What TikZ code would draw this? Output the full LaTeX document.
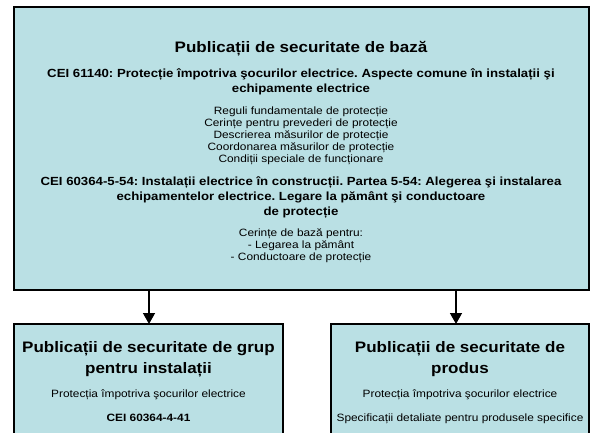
\documentclass[tikz,border=0pt]{standalone}
\usepackage{fontspec}
\setmainfont{Liberation Sans}[FakeStretch=1.12]
\frenchspacing
\usetikzlibrary{arrows.meta}
\definecolor{boxfill}{RGB}{186,224,228}
\tikzset{
  box/.style={draw=black, line width=1.5pt, fill=boxfill},
  txt/.style={inner sep=0pt, anchor=base},
  bigtitle/.style={txt, font=\bfseries\fontsize{15.2}{18}\selectfont},
  subtitle/.style={txt, font=\bfseries\fontsize{11.8}{14}\selectfont},
  plain/.style={txt, font=\fontsize{10.6}{12}\selectfont},
  conn/.style={line width=1.5pt, -{Triangle[length=11pt,width=12pt]}}
}
\begin{document}
\begin{tikzpicture}[x=1pt,y=-1pt]
\useasboundingbox (0,0) rectangle (590,432);
\clip (0,0) rectangle (590,432);
\draw[box] (14,7) rectangle (589,290);
\node[bigtitle] (t1) at (301,52) {Publicații de securitate de bază};
\node[subtitle] (t2a) at (301,77) {CEI 61140: Protecție împotriva şocurilor electrice. Aspecte comune în instalații şi};
\node[subtitle] (t2b) at (301,92) {echipamente electrice};
\node[plain] (t3a) at (301,114) {Reguli fundamentale de protecție};
\node[plain] (t3b) at (301,126) {Cerințe pentru prevederi de protecție};
\node[plain] (t3c) at (301,138) {Descrierea măsurilor de protecție};
\node[plain] (t3d) at (301,150) {Coordonarea măsurilor de protecție};
\node[plain] (t3e) at (301,162) {Condiții speciale de funcționare};
\node[subtitle] (t4a) at (301,185) {CEI 60364-5-54: Instalații electrice în construcții. Partea 5-54: Alegerea şi instalarea};
\node[subtitle] (t4b) at (301,200) {echipamentelor electrice. Legare la pământ şi conductoare};
\node[subtitle] (t4c) at (301,215) {de protecție};
\node[plain] (t5a) at (301,236) {Cerințe de bază pentru:};
\node[plain] (t5b) at (301,248) {- Legarea la pământ};
\node[plain] (t5c) at (301,260) {- Conductoare de protecție};

\draw[box] (14,324) rectangle (283,460);
\draw[box] (331,324) rectangle (589,460);
\coordinate (topL) at (149,290);
\coordinate (topR) at (456,290);
\coordinate (botL) at (149,324);
\coordinate (botR) at (456,324);
\draw[conn] (topL) -- (botL);
\draw[conn] (topR) -- (botR);

\node[bigtitle] (l1a) at (148.5,352) {Publicații de securitate de grup};
\node[bigtitle] (l1b) at (148.5,373) {pentru instalații};
\node[plain] (l2) at (148.5,397) {Protecția împotriva şocurilor electrice};
\node[txt, font=\bfseries\fontsize{10.6}{12}\selectfont] (l3) at (148.5,421) {CEI 60364-4-41};

\node[bigtitle] (r1a) at (460,352) {Publicații de securitate de};
\node[bigtitle] (r1b) at (460,373) {produs};
\node[plain] (r2) at (460,397) {Protecția împotriva şocurilor electrice};
\node[plain] (r3) at (460,421) {Specificații detaliate pentru produsele specifice};
\end{tikzpicture}
\end{document}
